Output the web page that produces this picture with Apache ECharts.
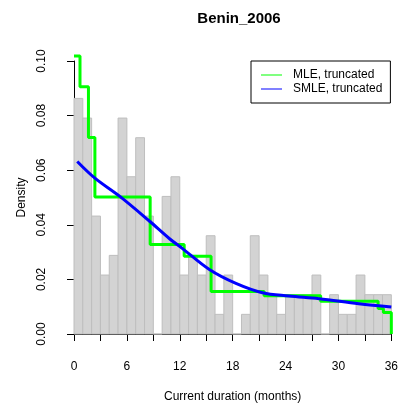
<!DOCTYPE html>
<html>
<head>
<meta charset="utf-8">
<script src="https://cdn.jsdelivr.net/npm/echarts@6/dist/echarts.min.js"></script>
<style>
  html, body { margin: 0; padding: 0; background: #fff; }
  #chart { width: 401px; height: 408px; }
</style>
</head>
<body>
<div id="chart"></div>
<script>
// Histogram of current durations: one-month bins from 0 to 36, density scale
const binStarts = [0, 1, 2, 3, 4, 5, 6, 7, 8, 9, 10, 11, 12, 13, 14, 15, 16, 17,
                   18, 19, 20, 21, 22, 23, 24, 25, 26, 27, 28, 29, 30, 31, 32, 33, 34, 35];
const histDensity = [0.0863, 0.0791, 0.0432, 0.0216, 0.0288, 0.0791, 0.0576, 0.0719, 0.0432, 0,
                     0.0504, 0.0576, 0.0216, 0.0288, 0.0216, 0.0360, 0.0072, 0.0216,
                     0, 0.0072, 0.0360, 0.0216, 0.0144, 0.0072, 0.0144, 0.0144, 0.0144, 0.0216,
                     0, 0.0144, 0.0072, 0.0072, 0.0216, 0.0144, 0.0144, 0.0144];

// MLE (truncated): step function, value holds from each breakpoint to the next
const mleBreaks = [0, 0.68, 1.64, 2.37, 8.64, 12.5, 15.55, 21.57, 27.98, 34.5, 35.1, 36];
const mleValues = [0.1018, 0.0906, 0.0720, 0.0502, 0.0328, 0.0285, 0.0156, 0.0140, 0.0120, 0.0093, 0.0079, 0];

// SMLE (truncated): smooth density estimate
const smleX = [0.37, 2.37, 5.2, 8.58, 10.84, 12.35, 15.36, 18.37, 21.37, 24.4, 27.8, 32.3, 36.0];
const smleY = [0.0632, 0.0571, 0.0504, 0.0413, 0.0349, 0.0312, 0.0236, 0.0185, 0.0151, 0.0139, 0.0129, 0.0111, 0.0099];

const xTicks = [0, 3, 6, 9, 12, 15, 18, 21, 24, 27, 30, 33, 36];
const yTicks = [0, 0.02, 0.04, 0.06, 0.08, 0.10];

const FONT = 'Liberation Sans, Arial, Helvetica, sans-serif';

const chart = echarts.init(document.getElementById('chart'), null, { renderer: 'canvas' });

const histData = binStarts.map((b, i) => [b, b + 1, histDensity[i]]);
const mleData = mleBreaks.map((b, i) => [b, mleValues[i]]);
const smleData = smleX.map((x, i) => [x, smleY[i]]);

chart.setOption({
  backgroundColor: '#ffffff',
  animation: false,
  title: {
    text: 'Benin_2006',
    left: 234,
    top: 6,
    textAlign: 'center',
    textStyle: { fontFamily: FONT, fontSize: 15, fontWeight: 'bold', color: '#000' }
  },
  legend: {
    orient: 'vertical',
    left: 251,
    top: 61,
    padding: [8, 8, 8, 10],
    borderColor: '#000',
    borderWidth: 1,
    borderRadius: 0,
    itemWidth: 21,
    itemHeight: 1,
    itemGap: 2,
    icon: 'rect',
    textStyle: { fontFamily: FONT, fontSize: 12, color: '#000', padding: [0, 0, 0, 6] },
    data: ['MLE, truncated', 'SMLE, truncated']
  },
  grid: { left: 74, right: 8, top: 61, bottom: 73 },
  xAxis: {
    type: 'value',
    min: xTicks[0],
    max: xTicks[xTicks.length - 1],
    interval: 3,
    offset: 11,
    splitLine: { show: false },
    axisLine: { show: true, lineStyle: { color: '#000', width: 1 } },
    axisTick: { show: true, length: 7, lineStyle: { color: '#000' } },
    axisLabel: {
      margin: 16,
      fontFamily: FONT, fontSize: 12, color: '#000',
      formatter: v => (v % 6 === 0 ? String(v) : '')
    },
    name: 'Current duration (months)',
    nameLocation: 'middle',
    nameGap: 46,
    nameTextStyle: { fontFamily: FONT, fontSize: 12, color: '#000' }
  },
  yAxis: {
    type: 'value',
    min: yTicks[0],
    max: yTicks[yTicks.length - 1],
    interval: 0.02,
    offset: 12,
    splitLine: { show: false },
    axisLine: { show: true, lineStyle: { color: '#000', width: 1 } },
    axisTick: { show: true, length: 7, lineStyle: { color: '#000' } },
    axisLabel: {
      rotate: 90,
      margin: 14,
      fontFamily: FONT, fontSize: 12, color: '#000',
      formatter: v => v.toFixed(2)
    },
    name: 'Density',
    nameLocation: 'middle',
    nameGap: 27,
    nameRotate: 90,
    nameTextStyle: { fontFamily: FONT, fontSize: 12, color: '#000' }
  },
  series: [
    {
      name: 'histogram',
      type: 'custom',
      z: 1,
      data: histData,
      encode: { x: [0, 1], y: 2 },
      renderItem: function (params, api) {
        const p0 = api.coord([api.value(0), 0]);
        const p1 = api.coord([api.value(1), api.value(2)]);
        return {
          type: 'rect',
          shape: { x: p0[0], y: p1[1], width: p1[0] - p0[0], height: p0[1] - p1[1] },
          style: { fill: '#d3d3d3', stroke: '#bebebe', lineWidth: 1 }
        };
      }
    },
    {
      name: 'MLE, truncated',
      type: 'line',
      z: 3,
      step: 'end',
      data: mleData,
      clip: false,
      showSymbol: false,
      color: '#00ff00',
      lineStyle: { color: '#00ff00', width: 3 }
    },
    {
      name: 'SMLE, truncated',
      type: 'line',
      z: 4,
      smooth: 0.35,
      data: smleData,
      clip: false,
      showSymbol: false,
      color: '#0000ff',
      lineStyle: { color: '#0000ff', width: 3 }
    }
  ]
});
</script>
</body>
</html>
